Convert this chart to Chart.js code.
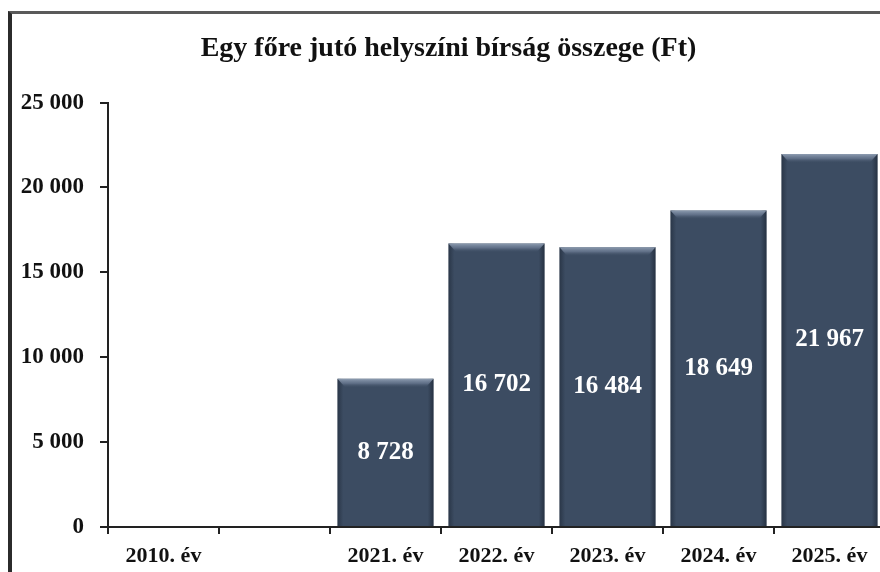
<!DOCTYPE html>
<html>
<head>
<meta charset="utf-8">
<script src="https://cdn.jsdelivr.net/npm/chart.js@4"></script>
<style>
  html, body { margin: 0; padding: 0; background: #fff; overflow: hidden; }
  #frame {
    position: absolute; left: 8px; top: 11px; width: 900px; height: 600px;
    border-left: 4px solid #2b2b2b; border-top: 3px solid #5a5a5a;
  }
  #wrap { position: absolute; left: 0; top: 0; width: 873px; height: 558px; }
</style>
</head>
<body>
<div id="frame">
  <div id="wrap"><canvas id="myChart"></canvas></div>
</div>
<script>
const categories = ['2010. év', '', '2021. év', '2022. év', '2023. év', '2024. év', '2025. év'];
const fineValues = [null, null, 8728, 16702, 16484, 18649, 21967];
const yTicks = [0, 5000, 10000, 15000, 20000, 25000];

const serif = '"Liberation Serif", "Times New Roman", serif';

function formatHu(n) {
  return String(n).replace(/\B(?=(\d{3})+(?!\d))/g, ' ');
}

// fenyes sav a hasab tetejen + ertekfelirat kozepen
const barDecor = {
  id: 'barDecor',
  afterDatasetsDraw(chart) {
    const ctx = chart.ctx;
    const meta = chart.getDatasetMeta(0);
    meta.data.forEach((bar, i) => {
      const v = fineValues[i];
      if (v == null) return;
      const left = bar.x - bar.width / 2;
      const right = bar.x + bar.width / 2;
      const top = bar.y;
      ctx.save();
      // oldalso sotetites
      let g = ctx.createLinearGradient(left, 0, right, 0);
      g.addColorStop(0, 'rgba(20,28,40,0.45)');
      g.addColorStop(0.06, 'rgba(20,28,40,0)');
      g.addColorStop(0.94, 'rgba(20,28,40,0)');
      g.addColorStop(1, 'rgba(20,28,40,0.55)');
      ctx.fillStyle = g;
      ctx.fillRect(left, top, bar.width, bar.base - top);
      // felso bevel
      g = ctx.createLinearGradient(0, top, 0, top + 9);
      g.addColorStop(0, 'rgba(150,165,185,0.9)');
      g.addColorStop(0.5, 'rgba(120,135,160,0.6)');
      g.addColorStop(1, 'rgba(62,78,100,0)');
      ctx.fillStyle = g;
      ctx.beginPath();
      ctx.moveTo(left, top);
      ctx.lineTo(right, top);
      ctx.lineTo(right - 8, top + 9);
      ctx.lineTo(left + 8, top + 9);
      ctx.closePath();
      ctx.fill();
      // felirat
      ctx.fillStyle = '#ffffff';
      ctx.font = 'bold 25px ' + serif;
      ctx.textAlign = 'center';
      ctx.textBaseline = 'middle';
      ctx.fillText(formatHu(v), bar.x, (top + bar.base) / 2);
      ctx.restore();
    });
  }
};

const ctx = document.getElementById('myChart').getContext('2d');
const myChart = new Chart(ctx, {
  type: 'bar',
  data: {
    labels: categories,
    datasets: [{
      label: 'Egy főre jutó helyszíni bírság összege (Ft)',
      data: fineValues,
      backgroundColor: '#3c4c62',
      borderWidth: 0,
      barPercentage: 0.865,
      categoryPercentage: 1
    }]
  },
  options: {
    responsive: true,
    maintainAspectRatio: false,
    animation: false,
    layout: { padding: { left: 0, right: 0, top: 0, bottom: 0 } },
    plugins: {
      legend: { display: false },
      tooltip: { enabled: false },
      title: {
        display: true,
        text: 'Egy főre jutó helyszíni bírság összege (Ft)',
        color: '#111',
        font: { family: serif, size: 28, weight: 'bold' },
        padding: { top: 18, bottom: 37 }
      }
    },
    scales: {
      x: {
        grid: { display: true, drawOnChartArea: false, drawTicks: true, tickLength: 7, color: '#222', lineWidth: 2 },
        border: { display: true, color: '#222', width: 2 },
        ticks: { color: '#111', padding: 9, font: { family: serif, size: 22, weight: 'bold' }, maxRotation: 0, autoSkip: false },
        afterFit(scale) { scale.height = 45; }
      },
      y: {
        min: 0,
        max: 25000,
        afterBuildTicks(scale) { scale.ticks = yTicks.map(v => ({ value: v })); },
        grid: { display: true, drawOnChartArea: false, drawTicks: true, tickLength: 8, color: '#222', lineWidth: 2 },
        border: { display: true, color: '#222', width: 2 },
        ticks: {
          color: '#111', padding: 16,
          font: { family: serif, size: 23, weight: 'bold' },
          callback: v => formatHu(v)
        },
        afterFit(scale) { scale.width = 96; }
      }
    }
  },
  plugins: [barDecor]
});
</script>
</body>
</html>
